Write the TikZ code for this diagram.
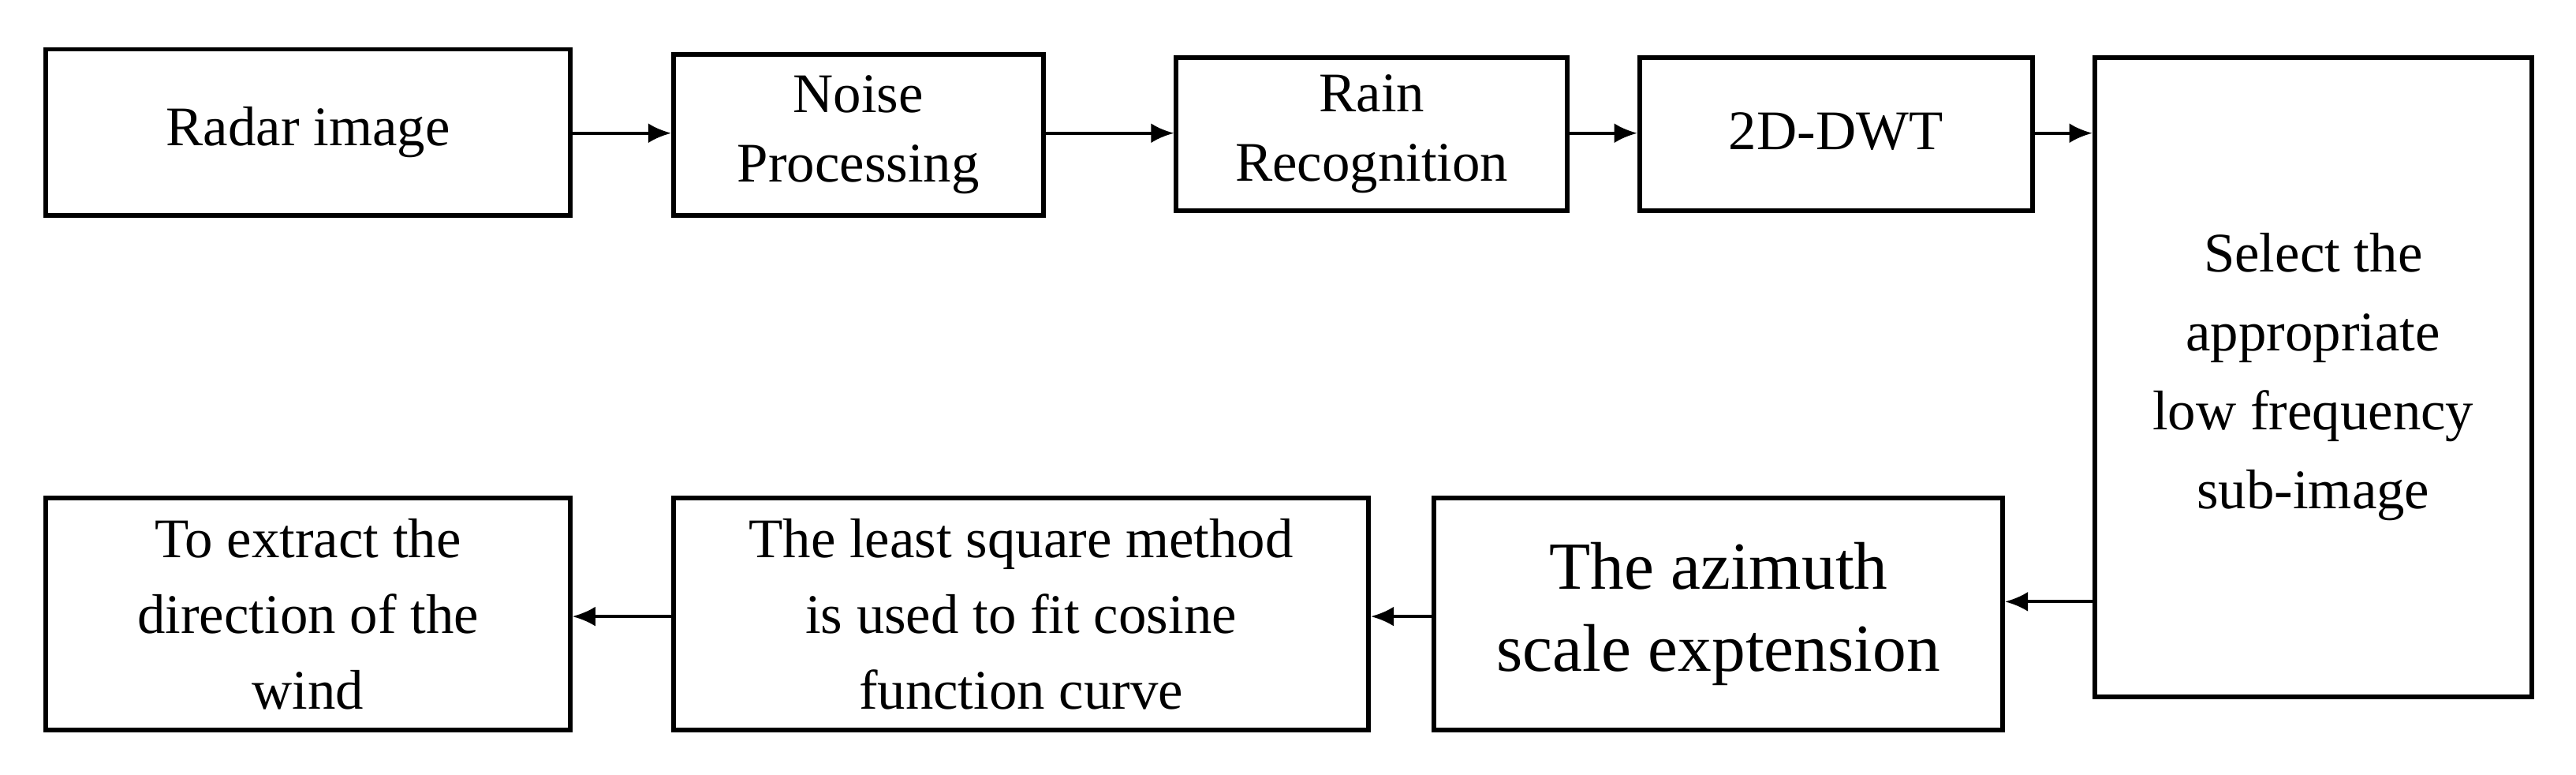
\documentclass[tikz,border=0pt]{standalone}
\usepackage{fontspec}
\setmainfont{Liberation Serif}
\usetikzlibrary{arrows.meta}
\begin{document}
\begin{tikzpicture}[x=0.5pt,y=-0.5pt,
  box/.style={draw,line width=1.4pt,align=center,inner sep=0pt,font=\fontsize{17}{21}\selectfont},
  arr/.style={-{Latex[length=7pt,width=6pt]},line width=1pt}]
\useasboundingbox (0,0) rectangle (1568,471.4);
\node[box,minimum width=159.5pt,minimum height=50.5pt] (a) at (187.5,80.5) {Radar image};
\node[box,minimum width=112.5pt,minimum height=49pt] (b) at (522.5,82) {Noise\\Processing};
\node[box,minimum width=119pt,minimum height=46.5pt] (c) at (835,81.5) {Rain\\Recognition};
\node[box,minimum width=119.5pt,minimum height=46.5pt] (d) at (1117.5,81.5) {};
\node[font=\fontsize{17}{21}\selectfont] (dt) at (1117.5,80) {2D-DWT};
\node[box,minimum width=133pt,minimum height=194.5pt,font=\fontsize{17}{24}\selectfont] (e) at (1408,229.5) {Select the\\appropriate\\low frequency\\sub-image};
\node[box,minimum width=173pt,minimum height=70.5pt,font=\fontsize{20.5}{25}\selectfont] (f) at (1046,373.5) {The azimuth\\scale exptension};
\node[box,minimum width=211.5pt,minimum height=70.5pt,font=\fontsize{17}{23}\selectfont] (g) at (621.5,373.5) {The least square method\\is used to fit cosine\\function curve};
\node[box,minimum width=159.5pt,minimum height=70.5pt,font=\fontsize{17}{23}\selectfont] (h) at (187.5,373.5) {To extract the\\direction of the\\wind};
\draw[arr] (a.east|-0,81) -- (b.west|-0,81);
\draw[arr] (b.east|-0,81) -- (c.west|-0,81);
\draw[arr] (c.east|-0,81) -- (d.west|-0,81);
\draw[arr] (d.east|-0,81) -- (e.west|-0,81);
\draw[arr] (e.west|-0,366) -- (f.east|-0,366);
\draw[arr] (f.west|-0,375) -- (g.east|-0,375);
\draw[arr] (g.west|-0,375) -- (h.east|-0,375);
\end{tikzpicture}
\end{document}
